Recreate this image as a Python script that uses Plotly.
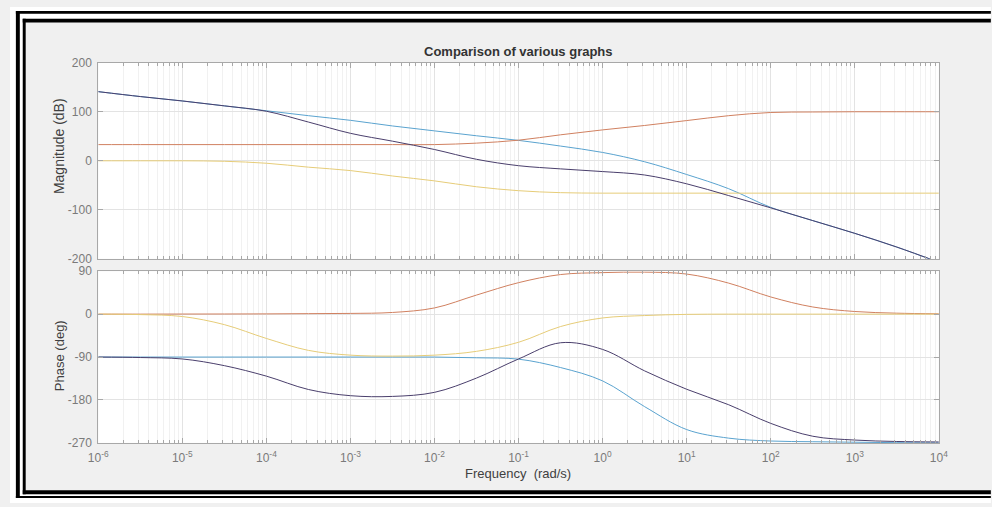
import plotly.graph_objects as go

# Frequency grid (rad/s), half-decade steps
freq = [1e-6, 3.162e-6, 1e-5, 3.162e-5, 1e-4, 3.162e-4, 1e-3, 3.162e-3, 1e-2, 3.162e-2,
        1e-1, 3.162e-1, 1e0, 3.162e0, 1e1, 3.162e1, 1e2, 3.162e2, 1e3, 3.162e3, 1e4]

# Magnitude (dB)
mag_blue = [141, 131, 122, 112, 102, 92, 82.5, 71, 61, 51, 41.6, 30, 17, -2, -28, -57, -95, -122, -148, -176, -207]
mag_red = [33, 33, 33, 33, 33, 33, 33, 33, 33, 36, 42, 53, 63, 72, 82, 92, 98.5, 99.5, 100, 100, 100]
mag_yellow = [0, 0, 0, -1, -5, -13, -20, -31, -41, -53, -61, -65, -66, -66, -66, -66, -66, -66, -66, -66, -66]
mag_purple = [141, 131, 122, 112, 101, 79, 56, 40, 23, 3, -10, -16.5, -22, -29, -47, -71, -96, -122, -148, -176, -207]

# Phase (deg)
ph_blue = [-90, -90, -90, -90, -90, -90, -90, -90, -90, -91.5, -94.4, -112, -140, -194, -242, -260, -266, -267.5, -268.5, -269.5, -270]
ph_red = [0, 0, 0.2, 0.3, 0.5, 1, 1.5, 3.5, 13, 40, 66, 83, 87, 88, 84, 65, 36, 15, 5.5, 2, 0.7]
ph_yellow = [0, -1, -5, -22, -51, -76, -86, -88, -86, -78, -59, -26, -8, -3, -0.5, 0, 0, 0, 0, 0, 0]
ph_purple = [-90, -91, -94, -108, -130, -158, -171, -172.5, -164, -134, -94, -60, -74, -119, -157.5, -190, -229, -256, -264, -267, -268]

x_tickvals = [1e-6, 1e-5, 1e-4, 1e-3, 1e-2, 1e-1, 1e0, 1e1, 1e2, 1e3, 1e4]
x_ticktext = ["10<sup>-6</sup>", "10<sup>-5</sup>", "10<sup>-4</sup>", "10<sup>-3</sup>", "10<sup>-2</sup>",
              "10<sup>-1</sup>", "10<sup>0</sup>", "10<sup>1</sup>", "10<sup>2</sup>", "10<sup>3</sup>", "10<sup>4</sup>"]
mag_ticks = [-200, -100, 0, 100, 200]
mag_ticktext = ["-200", "-100", "0", "100", "200"]
ph_ticks = [-270, -180, -90, 0, 90]
ph_ticktext = ["-270", "-180", "-90", "0", "90"]

colors = {"blue": "#5aa3cf", "red": "#d08060", "yellow": "#e6cc78", "purple": "#4a3f6c"}

W, H = 992, 507
FONT = "Liberation Sans, Arial, sans-serif"


def px(x):
    """window pixel x -> paper fraction"""
    return x / W


def py(y):
    """window pixel y (from top) -> paper fraction"""
    return (H - y) / H


fig = go.Figure()
series = [
    ("blue", mag_blue, ph_blue),
    ("red", mag_red, ph_red),
    ("yellow", mag_yellow, ph_yellow),
    ("purple", mag_purple, ph_purple),
]
for name, m, p in series:
    fig.add_trace(go.Scatter(x=freq, y=m, mode="lines", line=dict(color=colors[name], width=1, shape="spline", smoothing=1.0),
                             xaxis="x", yaxis="y", showlegend=False, hoverinfo="skip"))
    fig.add_trace(go.Scatter(x=freq, y=p, mode="lines", line=dict(color=colors[name], width=1, shape="spline", smoothing=1.0),
                             xaxis="x2", yaxis="y2", showlegend=False, hoverinfo="skip"))

axcol = "#a8a8a8"
gridcol = "#e3e3e3"
common_x = dict(type="log", range=[-6, 4], tickvals=x_tickvals, ticktext=x_ticktext,
                showline=True, linecolor=axcol, linewidth=1, mirror="ticks",
                ticks="inside", ticklen=5, tickcolor=axcol,
                showgrid=True, gridcolor=gridcol, gridwidth=1, zeroline=False,
                minor=dict(dtick="D1", ticks="inside", ticklen=3, tickcolor=axcol, showgrid=True, gridcolor="#f1f1f1"),
                domain=[px(90), px(947)],
                tickfont=dict(family=FONT, size=12, color="#7a7a7a"))
common_y = dict(showline=True, linecolor=axcol, linewidth=1, mirror="ticks",
                ticks="inside", ticklen=5, tickcolor=axcol,
                showgrid=True, gridcolor=gridcol, zeroline=False, ticklabelstandoff=3,
                tickfont=dict(family=FONT, size=12, color="#7a7a7a"))

fig.update_layout(
    width=W, height=H,
    margin=dict(l=0, r=0, t=0, b=0),
    paper_bgcolor="#f0f0f0",
    plot_bgcolor="#ffffff",
    xaxis=dict(common_x, anchor="y", showticklabels=False, matches="x2"),
    xaxis2=dict(common_x, anchor="y2", showticklabels=True, ticklabelstandoff=4),
    yaxis=dict(common_y, anchor="x", range=[-200, 200], tickvals=mag_ticks, ticktext=mag_ticktext,
               domain=[py(259), py(57.3)]),
    yaxis2=dict(common_y, anchor="x2", range=[-270, 90], tickvals=ph_ticks, ticktext=ph_ticktext,
                domain=[py(448.3), py(271.7)]),
)

annotations = [
    dict(text="<b>Comparison of various graphs</b>", x=px(518), y=py(46), xref="paper", yref="paper",
         showarrow=False, font=dict(family=FONT, size=13, color="#333333"), xanchor="center", yanchor="middle"),
    dict(text="Frequency  (rad/s)", x=px(518), y=py(480), xref="paper", yref="paper",
         showarrow=False, font=dict(family=FONT, size=13, color="#404040"), xanchor="center", yanchor="middle"),
    dict(text="Magnitude (dB)", x=px(50), y=py(143), xref="paper", yref="paper", textangle=-90,
         showarrow=False, font=dict(family=FONT, size=14, color="#404040"), xanchor="center", yanchor="middle"),
    dict(text="Phase (deg)", x=px(50), y=py(359), xref="paper", yref="paper", textangle=-90,
         showarrow=False, font=dict(family=FONT, size=13, color="#404040"), xanchor="center", yanchor="middle"),
]
fig.update_layout(annotations=annotations)


def band(x0, x1, y0, y1, color):
    return dict(type="rect", x0=px(x0), x1=px(x1), y0=py(y1), y1=py(y0), xref="paper", yref="paper",
                fillcolor=color, line_width=0, layer="below")


# Decorative double frame (black / white / black) on the left, top and bottom
shapes = [
    band(0, 1000, 0, 4, "white"),
    band(0, 6, 0, 510, "white"),
    band(0, 1000, 505, 510, "white"),
    band(10, 1000, 7, 12, "white"),
    band(10, 13, 7, 503, "white"),
    band(10, 1000, 501, 503, "white"),
    band(6, 1000, 4, 7, "black"),
    band(6, 10, 4, 505, "black"),
    band(6, 1000, 503, 505, "black"),
    band(13, 1000, 12, 16, "black"),
    band(13, 16, 12, 501, "black"),
    band(13, 1000, 497, 501, "black"),
]
fig.update_layout(shapes=shapes)

fig.write_html("out.html")
